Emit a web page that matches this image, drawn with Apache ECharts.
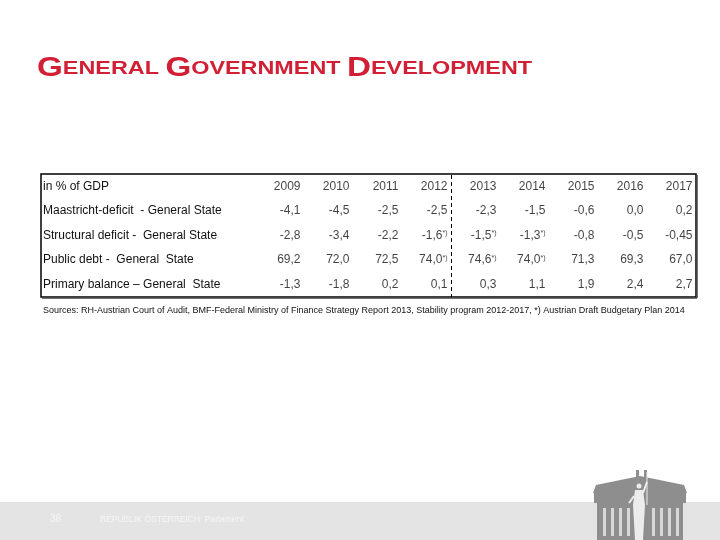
<!DOCTYPE html>
<html>
<head>
<meta charset="utf-8">
<script src="https://cdn.jsdelivr.net/npm/echarts@6/dist/echarts.min.js"></script>
<style>html,body{margin:0;padding:0;background:#fff}#c{width:720px;height:540px}</style>
</head>
<body>
<div id="c"></div>
<script>
// ---- data ----
const years = ['2009','2010','2011','2012','2013','2014','2015','2016','2017'];
const headerLabel = 'in % of GDP';
const rowLabels = [
  'Maastricht-deficit  - General State',
  'Structural deficit -  General State',
  'Public debt -  General  State',
  'Primary balance \u2013 General  State'
];
const maastricht = [-4.1, -4.5, -2.5, -2.5, -2.3, -1.5, -0.6, 0.0, 0.2];
const structural = [-2.8, -3.4, -2.2, -1.6, -1.5, -1.3, -0.8, -0.5, -0.45];
const publicDebt = [69.2, 72.0, 72.5, 74.0, 74.6, 74.0, 71.3, 69.3, 67.0];
const primary    = [-1.3, -1.8, 0.2, 0.1, 0.3, 1.1, 1.9, 2.4, 2.7];
const structuralNote = [0,0,0,1,1,1,0,0,0];
const debtNote       = [0,0,0,1,1,1,0,0,0];
const maastrichtNote = [0,0,0,0,0,0,0,0,0];
const primaryNote    = [0,0,0,0,0,0,0,0,0];
const sourceText = 'Sources: RH-Austrian Court of Audit, BMF-Federal Ministry of Finance Strategy Report 2013, Stability program 2012-2017, *) Austrian Draft Budgetary Plan 2014';

// ---- build ----
const FONT = 'Liberation Sans, Arial, sans-serif';
function fmt(v){
  const t = Math.abs(v*10 - Math.round(v*10)) < 1e-9 ? v.toFixed(1) : v.toFixed(2);
  return t.replace('.', ',');
}
const rows = [maastricht, structural, publicDebt, primary];
const notes = [maastrichtNote, structuralNote, debtNote, primaryNote];
const cells = [];
years.forEach((y, i) => cells.push({value:[i, 0], text:'{n|' + y + '}'}));
rows.forEach((arr, r) => {
  arr.forEach((v, i) => {
    const t = '{n|' + fmt(v) + '}' + (notes[r][i] ? '{s|*)}' : '');
    cells.push({value:[i, r + 1], text:t});
  });
});

const chart = echarts.init(document.getElementById('c'), null, {renderer:'canvas'});
const RED = '#d11f35';
chart.setOption({
  backgroundColor:'#ffffff',
  animation:false,
  grid:{left:255, top:174, width:441, height:123, containLabel:false},
  xAxis:{type:'category', data:years, show:false},
  yAxis:{type:'category', inverse:true, data:[headerLabel].concat(rowLabels),
    axisLine:{show:false}, axisTick:{show:false}, splitLine:{show:false},
    axisLabel:{interval:0, align:'left', margin:212, fontSize:12, color:'#111', fontFamily:FONT}},
  series:[{
    type:'scatter', symbolSize:1, itemStyle:{color:'rgba(0,0,0,0)'},
    data:cells,
    label:{show:true, position:'inside', align:'right', verticalAlign:'middle', offset:[21,0],
      formatter:p => p.data.text,
      rich:{
        n:{fontSize:12, color:'#111', fontFamily:FONT},
        s:{fontSize:7, color:'#111', fontFamily:FONT, padding:[0,0,5,0]}
      }}
  }],
  graphic:{elements:[
    {type:'text', x:37, y:55, scaleX:1.23,
      style:{text:'{b|G}{s|ENERAL }{b|G}{s|OVERNMENT }{b|D}{s|EVELOPMENT}',
        rich:{b:{fontSize:27, fontWeight:'bold', fill:RED, fontFamily:FONT},
              s:{fontSize:19, fontWeight:'bold', fill:RED, fontFamily:FONT}}}},
    {type:'rect', shape:{x:41, y:174, width:655, height:123}, style:{fill:'none', stroke:'#000', lineWidth:1.5}},
    {type:'line', shape:{x1:697, y1:175, x2:697, y2:298}, style:{stroke:'#444', lineWidth:1.5}},
    {type:'line', shape:{x1:42, y1:298, x2:697, y2:298}, style:{stroke:'#444', lineWidth:1.5}},
    {type:'text', left:43, top:306, style:{text:sourceText, fontSize:9, fill:'#111', fontFamily:FONT}},
    {type:'rect', shape:{x:0, y:502, width:720, height:38}, style:{fill:'#e4e4e4'}},
    {type:'text', left:50, top:514, style:{text:'38', fontSize:10, fill:'#f6f6f6', fontFamily:FONT}},
    {type:'text', left:100, top:515, style:{text:'REPUBLIK \u00d6STERREICH  Parlament', fontSize:8.5, fill:'#f6f6f6', fontFamily:FONT}},
    // logo
    {type:'group', children:[
      {type:'polygon', shape:{points:[[593,493],[596,485],[640,476],[684,485],[687,493]]}, style:{fill:'#8e8e8e'}},
      {type:'rect', shape:{x:636, y:470, width:3, height:8}, style:{fill:'#8e8e8e'}},
      {type:'rect', shape:{x:644, y:470, width:3, height:8}, style:{fill:'#8e8e8e'}},
      {type:'rect', shape:{x:594, y:493, width:92, height:10}, style:{fill:'#8e8e8e'}},
      {type:'rect', shape:{x:597, y:503, width:86, height:37}, style:{fill:'#8e8e8e'}},
      {type:'rect', shape:{x:603, y:508, width:3, height:28}, style:{fill:'#d8d8d8'}},
      {type:'rect', shape:{x:611, y:508, width:3, height:28}, style:{fill:'#d8d8d8'}},
      {type:'rect', shape:{x:619, y:508, width:3, height:28}, style:{fill:'#d8d8d8'}},
      {type:'rect', shape:{x:627, y:508, width:3, height:28}, style:{fill:'#d8d8d8'}},
      {type:'rect', shape:{x:652, y:508, width:3, height:28}, style:{fill:'#d8d8d8'}},
      {type:'rect', shape:{x:660, y:508, width:3, height:28}, style:{fill:'#d8d8d8'}},
      {type:'rect', shape:{x:668, y:508, width:3, height:28}, style:{fill:'#d8d8d8'}},
      {type:'rect', shape:{x:676, y:508, width:3, height:28}, style:{fill:'#d8d8d8'}},
      {type:'circle', shape:{cx:639, cy:486, r:2.5}, style:{fill:'#ececec'}},
      {type:'polygon', shape:{points:[[635,490],[643,490],[645,505],[643,540],[635,540],[633,505]]}, style:{fill:'#ececec'}},
      {type:'line', shape:{x1:643, y1:493, x2:647, y2:482}, style:{stroke:'#ececec', lineWidth:2}},
      {type:'line', shape:{x1:647, y1:472, x2:647, y2:505}, style:{stroke:'#ececec', lineWidth:1}},
      {type:'line', shape:{x1:634, y1:496, x2:629, y2:503}, style:{stroke:'#ececec', lineWidth:2}}
    ]}
  ]}
});
// dashed separator between 2012 and 2013, placed from the axis scale
const xa = chart.convertToPixel({xAxisIndex:0}, 3);
const xb = chart.convertToPixel({xAxisIndex:0}, 4);
const xm = Math.round((xa + xb) / 2) + 0.5;
chart.setOption({graphic:{elements:[
  {id:'dash', type:'line', shape:{x1:xm, y1:175, x2:xm, y2:297}, style:{stroke:'#000', lineWidth:1, lineDash:[4,3]}}
]}});
</script>
</body>
</html>
